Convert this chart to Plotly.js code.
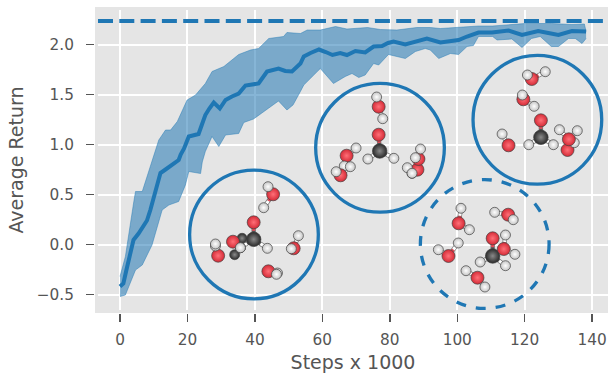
<!DOCTYPE html>
<html><head><meta charset="utf-8">
<script src="https://cdn.plot.ly/plotly-3.0.1.min.js"></script>
<style>html,body{margin:0;padding:0;background:#fff}#c{width:608px;height:373px}</style>
</head><body><div id="c"></div>
<script>
const meanX=[0,1,1.8,2.6,4,5.5,7,8,9,10.5,12,13.5,15.5,17.4,18,19,20.4,23.3,24.3,25.3,26.5,27.8,29.6,31.3,33.2,35.2,37.2,39.2,41.1,43.6,47,49,51,53.5,54.5,56.5,59,61,63,65.3,67.3,69.8,72.7,75.2,77.7,79.5,81.1,84.6,88,91,95,100.4,102.9,106.3,110.3,115.2,119.2,124,127,130,134,138.2];
const meanY=[-0.42,-0.39,-0.27,-0.155,0.045,0.11,0.18,0.24,0.345,0.52,0.715,0.75,0.795,0.845,0.9,0.96,1.08,1.105,1.2,1.295,1.36,1.42,1.36,1.445,1.48,1.51,1.59,1.60,1.61,1.73,1.76,1.735,1.73,1.81,1.88,1.915,1.95,1.925,1.895,1.915,1.895,1.935,1.92,1.98,1.985,2.015,2.03,2.0,2.03,2.06,2.02,2.045,2.08,2.12,2.12,2.14,2.095,2.135,2.115,2.095,2.135,2.13];
const upperX=[0,1.6,4.1,4.6,6.6,9.5,11.5,13.5,15,17,19.9,22.4,25.3,27.3,30.8,35.2,38.7,41.1,44.1,48.5,49.5,53.5,55.5,59.4,63.9,67.3,73.4,77.2,82.1,88,92,95,100,106.3,110.5,115.2,120.1,128,134,137.7,138.2];
const upperY=[-0.32,-0.12,0.43,0.53,0.53,0.845,1.045,1.145,1.145,1.23,1.445,1.495,1.61,1.73,1.78,1.90,1.945,1.96,2.06,2.08,2.12,2.11,2.145,2.145,2.18,2.155,2.17,2.15,2.145,2.17,2.17,2.16,2.17,2.185,2.185,2.20,2.21,2.21,2.20,2.205,2.13];
const lowerX=[0,1.6,4.6,6.6,9.5,12.5,14.5,17.4,19.4,20.4,23.9,24.4,25.3,27.3,29.3,31.3,35.2,36.7,39.6,42.6,47,49.5,51.3,53.5,54.5,59.4,63.3,66.8,68.8,70.8,72.7,75.2,76.7,79.6,84.6,87.6,90.5,92,94.5,98,100.4,102.9,104.8,106.3,110.5,111.8,116.2,119.2,122,124.6,127.9,130,133,135,137,138.2];
const lowerY=[-0.52,-0.505,-0.255,-0.205,-0.005,0.345,0.395,0.43,0.595,0.73,0.71,0.825,0.93,1.08,0.98,1.095,1.11,1.22,1.255,1.33,1.435,1.345,1.395,1.53,1.595,1.76,1.61,1.68,1.71,1.67,1.695,1.81,1.795,1.90,1.86,1.93,1.96,1.945,1.86,1.91,1.90,1.98,1.99,2.08,2.08,2.045,2.055,1.97,2.06,2.08,1.98,1.98,2.06,2.06,2.01,2.06];
const targetX=[-6.52,144.7];
const targetY=[2.235,2.235];
const xTicks=[0,20,40,60,80,100,120,140];
const yTicks=[-0.5,0,0.5,1,1.5,2];
const yTickText=["\u22120.5","0.0","0.5","1.0","1.5","2.0"];
const xTitle="Steps x 1000";
const yTitle="Average Return";
const circleX=[39.73,77.1,123.76,108.15];
const circleY=[0.10,0.967,1.247,0.005];
const circleDash=["solid","solid","solid","10px,10px"];
const circleRX=19.08, circleRY=0.644;
const atomMol=[0,0,0,0, 1,1,1, 2,2, 4,4,4, 5,5,5, 6,6,6, 25,25,25,
 7,7,7,7, 8,8,8, 9,9,9, 10,10,10, 12, 26,26,26, 11,11,11,
 13,13,13,13, 14,14,14, 15,15,15, 16,16, 17,17, 18,18,18,
 19,19,19,19, 20,20,20, 21,21,21, 22,22,22, 23,23,23, 24,24,24];
const atomKind=["C","O","H","H", "c","c","H", "O","H", "O","H","H", "O","H","H", "O","H","H", "O","H","H",
 "C","O","H","H", "O","H","H", "O","H","H", "O","H","H", "c", "O","H","H", "O","H","H",
 "C","O","H","H", "O","H","H", "O","H","H", "O","H", "O","H", "O","H","H",
 "C","O","H","H", "O","H","H", "O","H","H", "O","H","H", "O","H","H", "O","H","H"];
const atomX=[39.64,39.64,43.7,35.7, 36.2,34.0,35.7, 33.5,35.7, 45.4,43.9,42.6, 29.1,28.3,28.3, 44,46.7,46.4, 51.5,52.9,50.8,
 77.0,76.7,73.5,81.2, 76.7,76.1,77.9, 67.2,70,66.5, 65.4,64.1,68.3, 86.6, 88.2,85.2,86.6, 88.5,89.1,87.6,
 124.8,124.8,121.2,128.5, 122.1,120.8,126.1, 119.6,119.3,122.8, 115.2,113.3, 132.7,134.7, 133.1,130.3,135.6,
 110.5,110.5,106.8,114.3, 113.8,114.3,117.1, 100.4,101.1,103.6, 115.1,111.1,116.6, 97.4,94.4,100.3, 106,102.6,108.2];
const atomY=[0.052,0.222,-0.038,-0.032, 0.062,-0.102,-0.032, 0.028,-0.032, 0.502,0.578,0.368, -0.112,-0.015,0.005, -0.268,-0.285,-0.298, -0.038,0.088,-0.042,
 0.935,1.098,0.855,0.862, 1.378,1.475,1.258, 0.888,0.965,0.785, 0.692,0.728,0.778, 0.712, 0.748,0.768,0.712, 0.855,0.955,0.868,
 1.072,1.242,0.998,0.998, 1.655,1.695,1.728, 1.452,1.495,1.382, 0.992,1.105, 0.945,1.018, 1.052,1.148,1.138,
 -0.115,0.062,-0.175,-0.212, -0.045,0.095,-0.098, 0.212,0.362,0.148, 0.298,0.322,0.248, -0.115,-0.052,0.015, -0.332,-0.262,-0.425];

const blue="#1f77b4";
const kinds={
 O:{c:"#d42a36",g:"#ff7078",s:13},
 H:{c:"#c4c4c4",g:"#ffffff",s:10},
 C:{c:"#2a2a2a",g:"#8a8a8a",s:14.5},
 c:{c:"#2a2a2a",g:"#8a8a8a",s:10}
};
const bonds={O:{x:[],y:[]},H:{x:[],y:[]},C:{x:[],y:[]},under:{x:[],y:[]}};
const first={};
atomMol.forEach((m,i)=>{
 if(first[m]===undefined){first[m]=i;return;}
 const a=first[m];
 if(atomKind[i]==="c"&&atomKind[a]==="c")return;
 const mx=(atomX[a]+atomX[i])/2,my=(atomY[a]+atomY[i])/2;
 const ka=atomKind[a]==="C"?"C":"O", kb=atomKind[i]==="O"?"O":(atomKind[i]==="H"?"H":"C");
 bonds.under.x.push(atomX[a],atomX[i],null);bonds.under.y.push(atomY[a],atomY[i],null);
 bonds[ka].x.push(atomX[a],mx,null);bonds[ka].y.push(atomY[a],my,null);
 bonds[kb].x.push(atomX[i],mx,null);bonds[kb].y.push(atomY[i],my,null);
});
const bondColor={O:"#ea4a55",H:"#ffffff",C:"#555555"};
const traces=[
 {x:upperX,y:upperY,mode:"lines",line:{color:"rgba(31,119,180,0.45)",width:1},hoverinfo:"skip"},
 {x:lowerX,y:lowerY,mode:"lines",line:{color:"rgba(31,119,180,0.45)",width:1},fill:"tonexty",fillcolor:"rgba(31,119,180,0.54)",hoverinfo:"skip"},
 {x:meanX,y:meanY,mode:"lines",line:{color:blue,width:4},hoverinfo:"skip"},
 {x:targetX,y:targetY,mode:"lines",line:{color:blue,width:3.8,dash:"15px,6.3px"},hoverinfo:"skip"},
 {x:bonds.under.x,y:bonds.under.y,mode:"lines",line:{color:"#777777",width:4.4},hoverinfo:"skip"}
];
for(const k of ["C","O","H"]){
 traces.push({x:bonds[k].x,y:bonds[k].y,mode:"lines",line:{color:bondColor[k],width:3},connectgaps:false,hoverinfo:"skip"});
}
traces.push({x:atomX,y:atomY,mode:"markers",hoverinfo:"skip",marker:{
 size:atomKind.map(k=>kinds[k].s),color:atomKind.map(k=>kinds[k].c),
 gradient:{type:"radial",color:atomKind.map(k=>kinds[k].g)},
 line:{color:"#444444",width:0.7},opacity:1}});
const shapes=circleX.map((cx,i)=>({type:"circle",xref:"x",yref:"y",x0:cx-circleRX,x1:cx+circleRX,y0:circleY[i]-circleRY,y1:circleY[i]+circleRY,line:{color:blue,width:3.3,dash:circleDash[i]}}));
const tickFont={family:"DejaVu Sans",size:15.3,color:"#555555"};
const titleFont={family:"DejaVu Sans",size:19,color:"#555555"};
const layout={
 width:608,height:373,showlegend:false,paper_bgcolor:"#ffffff",plot_bgcolor:"#e5e5e5",
 margin:{l:97.5,r:0,t:10,b:63,pad:2.5},
 shapes:shapes,
 xaxis:{range:[-6.52,144.7],tickvals:xTicks,ticktext:xTicks.map(String),ticks:"outside",ticklen:8,tickwidth:1.5,tickcolor:"#555555",tickfont:tickFont,ticklabelstandoff:5,
  gridcolor:"#ffffff",gridwidth:2,zeroline:false,showline:false,automargin:false,title:{text:xTitle,font:titleFont,standoff:19}},
 yaxis:{range:[-0.655,2.345],tickvals:yTicks,ticktext:yTickText,ticks:"outside",ticklen:8,tickwidth:1.5,tickcolor:"#555555",tickfont:tickFont,ticklabelstandoff:9,
  gridcolor:"#ffffff",gridwidth:2,zeroline:false,showline:false,automargin:false,title:{text:yTitle,font:titleFont,standoff:11}}
};
Plotly.newPlot("c",traces,layout,{displayModeBar:false,staticPlot:true});
</script></body></html>
